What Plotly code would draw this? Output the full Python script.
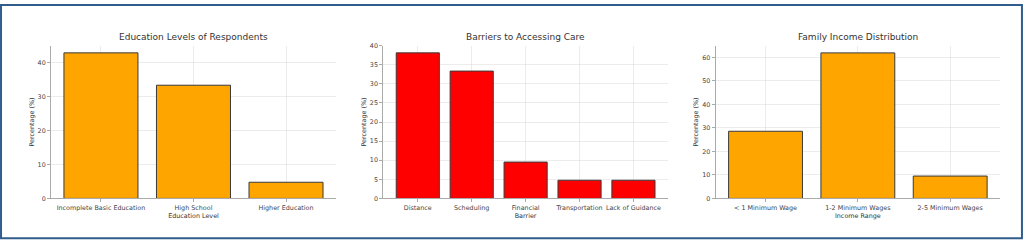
import plotly.graph_objects as go
from plotly.subplots import make_subplots

# ---- data ----
edu_levels = ["Incomplete Basic Education", "High School", "Higher Education"]
edu_pct = [42.86, 33.33, 4.76]

barriers = ["Distance", "Scheduling", "Financial", "Transportation", "Lack of Guidance"]
barrier_pct = [38.10, 33.33, 9.52, 4.76, 4.76]

income_ranges = ["< 1 Minimum Wage", "1-2 Minimum Wages", "2-5 Minimum Wages"]
income_pct = [28.57, 61.90, 9.52]

titles = ["Education Levels of Respondents", "Barriers to Accessing Care", "Family Income Distribution"]
xtitles = ["Education Level", "Barrier", "Income Range"]
ytitle = "Percentage (%)"

FONT = "DejaVu Sans"
fig = make_subplots(rows=1, cols=3)

series = [
    (edu_levels, edu_pct, "#FFA500", [0, 45], 10),
    (barriers, barrier_pct, "#FF0000", [0, 40], 5),
    (income_ranges, income_pct, "#FFA500", [0, 65], 10),
]
xdomains = [[0.0498, 0.3281], [0.3743, 0.6523], [0.6989, 0.9766]]
ydomain = [0.1796, 0.8245]

for i, (cats, vals, col, yr, dt) in enumerate(series):
    fig.add_trace(
        go.Bar(x=cats, y=vals, width=0.8, marker=dict(color=col, line=dict(color="#3a3a3a", width=1)),
               showlegend=False),
        row=1, col=i + 1,
    )
    n = len(cats)
    pad = (n - 0.2) * 0.05
    ax = dict(
        domain=xdomains[i], type="category", range=[-0.4 - pad, n - 0.6 + pad],
        showline=True, linecolor="#aaaaaa", linewidth=1,
        ticks="outside", ticklen=3, tickcolor="#aaaaaa",
        showgrid=True, gridcolor="rgba(200,200,200,0.35)", gridwidth=1,
        tickfont=dict(family=FONT, size=6.4, color="#444444"),
        title=dict(text=xtitles[i], font=dict(family=FONT, size=6.4, color="#333333"), standoff=2),
        layer="above traces", zeroline=False, fixedrange=True,
    )
    ay = dict(
        domain=ydomain, range=yr, dtick=dt, tick0=0,
        showline=True, linecolor="#aaaaaa", linewidth=1,
        ticks="outside", ticklen=3, tickcolor="#aaaaaa",
        showgrid=True, gridcolor="rgba(200,200,200,0.35)", gridwidth=1,
        tickfont=dict(family=FONT, size=6.4, color="#444444"),
        title=dict(text=ytitle, font=dict(family=FONT, size=6.4, color="#333333"), standoff=2),
        layer="above traces", zeroline=False, fixedrange=True,
    )
    sfx = "" if i == 0 else str(i + 1)
    fig.layout["xaxis" + sfx].update(ax)
    fig.layout["yaxis" + sfx].update(ay)
    fig.add_annotation(
        text=titles[i], xref="paper", yref="paper",
        x=(xdomains[i][0] + xdomains[i][1]) / 2, y=ydomain[1], yshift=2,
        xanchor="center", yanchor="bottom", showarrow=False,
        font=dict(family=FONT, size=9, color="#333333"),
    )

fig.add_shape(type="rect", xref="paper", yref="paper", x0=0.001, y0=0.012, x1=0.998, y1=0.996,
              line=dict(color="#2f5d8c", width=2))

fig.update_layout(
    width=1024, height=245, margin=dict(l=0, r=0, t=0, b=0),
    paper_bgcolor="white", plot_bgcolor="white", bargap=0.2,
)
fig.write_html("out.html", config={"displayModeBar": False})
